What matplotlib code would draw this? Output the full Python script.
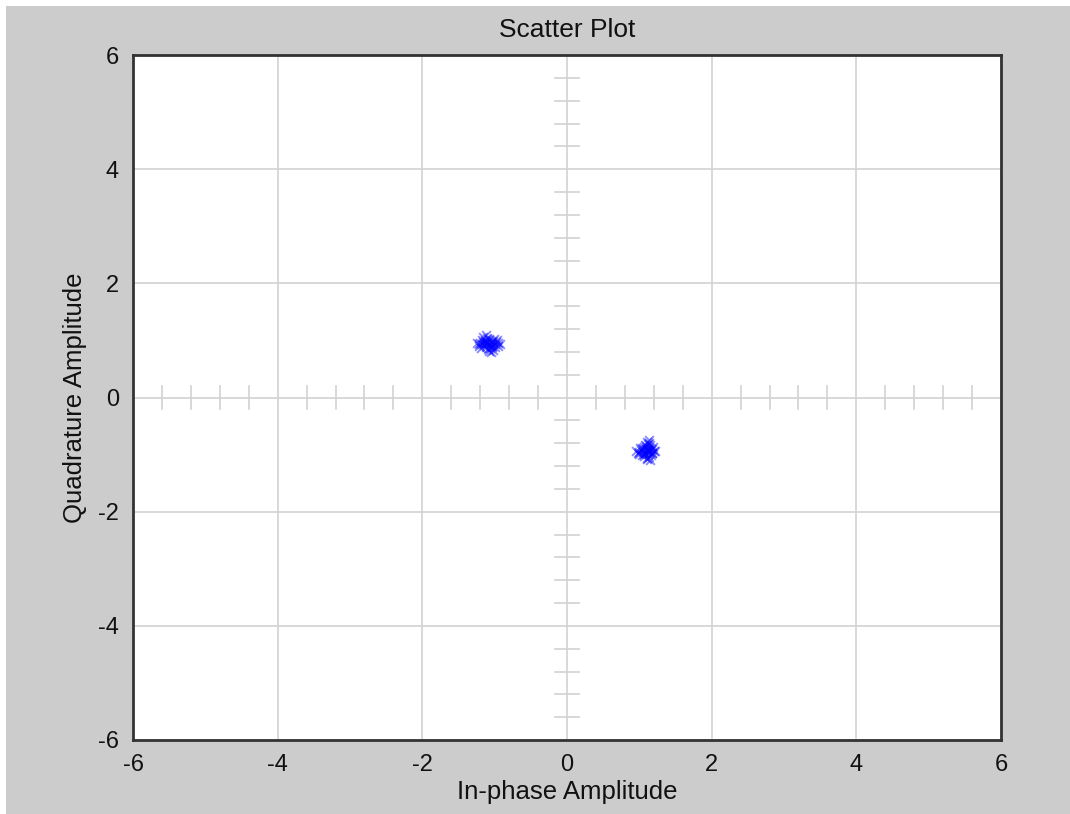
import numpy as np
import matplotlib.pyplot as plt
from matplotlib.patches import Rectangle

# scatter data (in-phase, quadrature)
c1_i = [-1.10, -1.05, -1.15, -1.20, -1.00, -1.08, -1.12, -0.98, -1.18, -1.03,
        -1.14, -1.06, -1.22, -0.95, -1.09, -1.01, -1.16, -1.11, -1.04, -0.97,
        -1.13, -1.07, -1.19, -1.02, -1.10, -0.92, -1.24, -1.08, -1.06, -1.14,
        -1.00, -1.17, -1.11, -1.03, -0.96, -1.21, -1.12, -1.05, -1.16, -1.02]
c1_q = [0.95, 0.98, 0.92, 0.96, 0.93, 1.02, 0.88, 0.97, 1.00, 0.90,
        0.99, 0.94, 0.91, 0.95, 0.85, 1.03, 0.97, 0.93, 0.89, 1.00,
        0.96, 0.91, 0.87, 0.99, 1.05, 0.94, 0.96, 0.82, 0.86, 1.01,
        0.88, 0.94, 0.98, 0.96, 0.91, 0.93, 1.09, 0.80, 1.06, 0.84]
c2_i = [1.10, 1.15, 1.05, 1.12, 1.18, 1.02, 1.08, 1.14, 1.20, 0.98,
        1.11, 1.06, 1.16, 1.13, 1.09, 1.03, 1.19, 1.12, 1.07, 1.15,
        1.00, 1.22, 1.10, 1.14, 1.17, 1.04, 1.12, 1.09, 1.13, 1.06,
        1.16, 1.01, 1.11, 1.18, 1.08, 1.14, 0.96, 0.99, 1.15, 1.05]
c2_q = [-0.93, -0.88, -0.95, -0.82, -0.90, -0.92, -0.98, -0.96, -0.94, -0.97,
        -0.78, -0.86, -1.00, -1.04, -0.91, -0.89, -0.87, -0.99, -1.02, -0.84,
        -0.95, -0.93, -1.06, -0.80, -0.97, -1.01, -0.90, -0.85, -0.75, -0.99,
        -0.92, -0.88, -1.07, -0.98, -0.83, -0.94, -0.93, -0.99, -1.09, -0.90]

ticks = [-6, -4, -2, 0, 2, 4, 6]
minor = [round(v, 1) for v in np.arange(-5.6, 5.61, 0.4)]

plt.rcParams['font.family'] = ['Liberation Sans', 'DejaVu Sans']
plt.rcParams['axes.unicode_minus'] = False

fig = plt.figure(figsize=(10.7, 8.14), dpi=100)
fig.patch.set_facecolor('white')
# gray panel (small white margin on the top and left edges)
fig.add_artist(Rectangle((6 / 1070, 0), 1, 1 - 6 / 814, transform=fig.transFigure,
                         facecolor='#cccccc', edgecolor='none', zorder=-10))

ax = fig.add_axes([133 / 1070, 1 - 740 / 814, 868 / 1070, 685 / 814])
ax.set_facecolor('white')
ax.set_xlim(-6, 6)
ax.set_ylim(-6, 6)
ax.set_xticks(ticks)
ax.set_yticks(ticks)
ax.grid(True, color='#d2d2d2', linewidth=1.2)
ax.set_axisbelow(True)
ax.tick_params(length=0, pad=10, labelsize=17, colors='#111111')

# crosshair tick marks through the origin
for v in minor:
    if abs(v % 2) < 1e-6 or abs(v % 2 - 2) < 1e-6:
        continue
    ax.plot([v, v], [-0.21, 0.21], color='#d2d2d2', linewidth=1.2, zorder=0.5)
    ax.plot([-0.17, 0.17], [v, v], color='#d2d2d2', linewidth=1.2, zorder=0.5)

ax.scatter(c1_i, c1_q, marker='x', s=40, linewidths=1.4, color='blue', alpha=0.45, zorder=3)
ax.scatter(c2_i, c2_q, marker='x', s=40, linewidths=1.4, color='blue', alpha=0.45, zorder=3)

for s in ax.spines.values():
    s.set_color('#333333')
    s.set_linewidth(2)

ax.set_title('Scatter Plot', fontsize=19, pad=13, color='#111111')
ax.set_xlabel('In-phase Amplitude', fontsize=18.5, labelpad=3, color='#111111')
ax.set_ylabel('Quadrature Amplitude', fontsize=18.5, labelpad=8, color='#111111')

fig.savefig('out.png', dpi=100, facecolor=fig.get_facecolor())
